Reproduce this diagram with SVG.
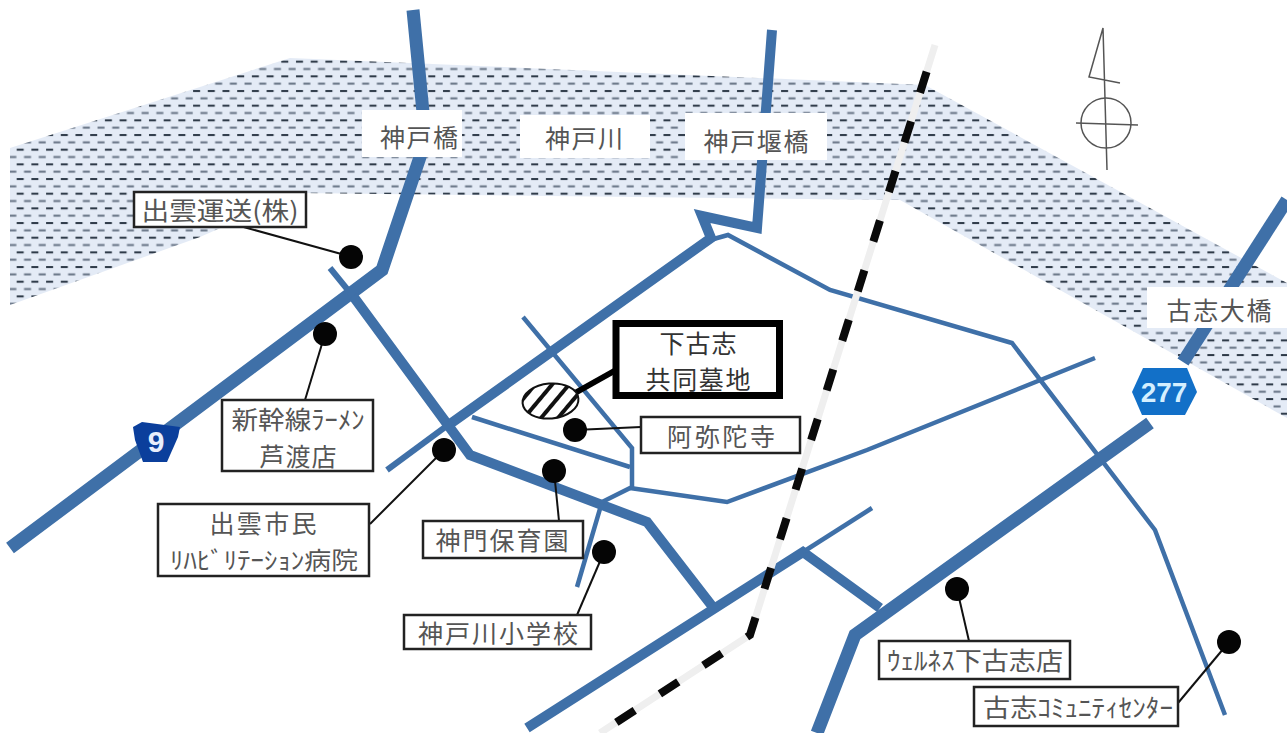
<svg xmlns="http://www.w3.org/2000/svg" width="1287" height="733" viewBox="0 0 1287 733">
<style>
.road{fill:none;stroke:#3f70a8;stroke-linejoin:miter}
.r12{stroke-width:13}.r9{stroke-width:10}.r5{stroke-width:6}.r4{stroke-width:4.5}
.lead{fill:none;stroke:#111;stroke-width:2}
.box{fill:#fff;stroke:#222;stroke-width:2.5}
.dot{fill:#050505}
text{font-family:"Noto Sans CJK JP","Noto Sans",sans-serif;fill:#555;text-anchor:middle;dominant-baseline:central;font-size:25px}
.plate{fill:#fff}
</style>
<defs>
<pattern id="water" width="14.7" height="14.67" patternUnits="userSpaceOnUse">
<rect width="14.7" height="14.67" fill="#e4ebf6"/>
<rect x="2" y="2" width="7" height="2" fill="#2c3846"/>
<rect x="9.35" y="9.33" width="7" height="2" fill="#667384"/>
<rect x="-5.35" y="9.33" width="7" height="2" fill="#667384"/>
</pattern>
<pattern id="hatch" width="13" height="13" patternUnits="userSpaceOnUse" patternTransform="rotate(-45 550 401)">
<rect width="13" height="13" fill="#fff"/>
<rect width="13" height="4" fill="#111"/>
</pattern>
</defs>
<rect width="1287" height="733" fill="#fff"/>
<polygon id="river" points="10,148 290,58 925,85 1287,283 1287,418 900,200 300,193 200,237 10,305" fill="url(#water)"/>
<g id="connectors">
<polyline class="road r12" points="413,10 423,112 420,157 382,270 10,548"/>
<polyline class="road r5" points="330,268 356,300"/>
<polyline class="road r9" points="353,296 470,455 647,522 712,606"/>
<polyline class="road r9" points="772,30 757,228 702,216 711,238 450,424"/>
<polyline class="road r5" points="452,422 387,470"/>
<polyline class="road r4" points="710,240 728,235 830,290 1012,343 1155,530 1225,715"/>
<polyline class="road r4" points="472,417 630,467"/>
<polyline class="road r4" points="523,317 632,448 632,487 602,502 577,587"/>
<polyline class="road r4" points="630,488 727,502 867,450 1095,358"/>
<polyline class="road r9" points="527,728 803,552 880,608"/>
<polyline class="road r4" points="803,552 872,508"/>
<polyline class="road r12" points="1287,200 1183,362"/>
<polyline class="road r12" points="1150,423 855,635 817,733"/>
<polyline fill="none" stroke="#efefef" stroke-width="7" points="935,45 750,635 600,733"/>
<polyline fill="none" stroke="#0a0a0a" stroke-width="8" stroke-dasharray="22 30" stroke-dashoffset="24" points="935,45 750,635 600,733"/>
<line class="lead" x1="240" y1="226" x2="345" y2="255"/>
<line class="lead" x1="325" y1="334" x2="305" y2="400"/>
<line class="lead" x1="444" y1="450" x2="370" y2="524"/>
<line class="lead" x1="575" y1="430" x2="641" y2="427"/>
<line class="lead" x1="554" y1="471" x2="559" y2="521"/>
<line class="lead" x1="604" y1="552" x2="577" y2="615"/>
<line class="lead" x1="957" y1="589" x2="969" y2="641"/>
<line class="lead" x1="1229" y1="642" x2="1178" y2="703"/>
<line x1="575" y1="393" x2="616" y2="370" stroke="#000" stroke-width="6"/>
</g>
<g id="compass" fill="none" stroke="#555" stroke-width="1.5">
<polyline points="1107,170 1103,28 1089,77 1120,83"/>
<circle cx="1106" cy="123" r="25"/>
<line x1="1076" y1="123" x2="1138" y2="125"/>
</g>
<g id="kobe-bridge"><rect class="plate" x="362" y="110" width="100" height="47"/><text x="419" y="136" textLength="78" lengthAdjust="spacing">神戸橋</text></g>
<g id="kobe-river"><rect class="plate" x="520" y="115" width="130" height="43"/><text x="584" y="137" textLength="78" lengthAdjust="spacing">神戸川</text></g>
<g id="kobe-weir-bridge"><rect class="plate" x="685" y="113" width="142" height="47"/><text x="756" y="140" textLength="105" lengthAdjust="spacing">神戸堰橋</text></g>
<g id="koshi-bridge"><rect class="plate" x="1147" y="287" width="140" height="41"/><text x="1219" y="309" textLength="105" lengthAdjust="spacing">古志大橋</text></g>
<g id="route-9"><polygon points="133,427 142,422 180,427 178,437 167,462 143,462 135,440" fill="#0b3f9c"/><text x="156" y="441" style="font-family:'Liberation Sans',sans-serif;font-weight:700;font-size:30px;fill:#e8eefc">9</text></g>
<g id="route-277"><polygon points="1132,392 1143,368 1187,368 1197,392 1185,415 1142,415" fill="#1270c8"/><text x="1164" y="392" style="font-family:'Liberation Sans',sans-serif;font-weight:700;font-size:28px;fill:#d4efff">277</text></g>
<g id="izumo-unso"><circle class="dot" cx="351" cy="257" r="12"/><rect class="box" x="134" y="192" width="172" height="35"/><text x="220" y="209" textLength="157" lengthAdjust="spacingAndGlyphs">出雲運送(株)</text></g>
<g id="shinkansen-ramen"><circle class="dot" cx="325" cy="334" r="12"/><rect class="box" x="222" y="400" width="151" height="71"/><text x="298" y="418" textLength="133" lengthAdjust="spacingAndGlyphs">新幹線ﾗｰﾒﾝ</text><text x="298" y="455" textLength="77" lengthAdjust="spacing">芦渡店</text></g>
<g id="izumo-hospital"><circle class="dot" cx="444" cy="450" r="12"/><rect class="box" x="158" y="504" width="211" height="72"/><text x="263" y="522" textLength="107" lengthAdjust="spacing">出雲市民</text><text x="264" y="558" textLength="188" lengthAdjust="spacingAndGlyphs" style="font-size:24px">ﾘﾊﾋﾞﾘﾃｰｼｮﾝ病院</text></g>
<g id="shimokoshi-cemetery"><ellipse cx="550.5" cy="401" rx="28" ry="17.5" fill="url(#hatch)" stroke="#111" stroke-width="2" transform="rotate(-5 550.5 401)"/><rect x="616" y="323.5" width="163.5" height="72" fill="#fff" stroke="#000" stroke-width="7"/><text x="698" y="342" textLength="77" lengthAdjust="spacing" style="fill:#333">下古志</text><text x="698" y="378" textLength="105" lengthAdjust="spacing" style="fill:#333">共同墓地</text></g>
<g id="amida-temple"><circle class="dot" cx="575" cy="430" r="12"/><rect class="box" x="641" y="417" width="159" height="36"/><text x="721" y="435" textLength="108" lengthAdjust="spacing">阿弥陀寺</text></g>
<g id="kando-nursery"><circle class="dot" cx="554" cy="471" r="12"/><rect class="box" x="423" y="521" width="160" height="37"/><text x="502" y="539" textLength="133" lengthAdjust="spacing">神門保育園</text></g>
<g id="kando-school"><circle class="dot" cx="604" cy="552" r="12"/><rect class="box" x="404" y="615" width="187" height="34"/><text x="498" y="632" textLength="160" lengthAdjust="spacing">神戸川小学校</text></g>
<g id="wellness"><circle class="dot" cx="957" cy="589" r="12"/><rect class="box" x="879" y="641" width="191" height="38"/><text x="975" y="659" textLength="176" lengthAdjust="spacingAndGlyphs">ｳｪﾙﾈｽ下古志店</text></g>
<g id="koshi-center"><circle class="dot" cx="1229" cy="642" r="12"/><rect class="box" x="974" y="687" width="204" height="39"/><text x="1078" y="706" textLength="190" lengthAdjust="spacingAndGlyphs">古志ｺﾐｭﾆﾃｨｾﾝﾀｰ</text></g>
</svg>
